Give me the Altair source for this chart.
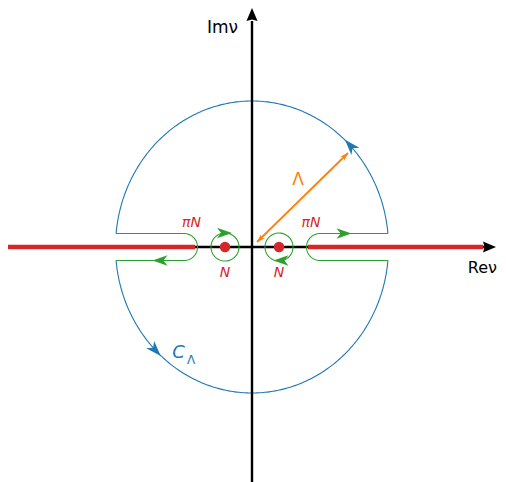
import altair as alt
import numpy as np
import pandas as pd

# ---------------- named data (pixel-like units, origin at axis crossing) ----------------
X_DOMAIN = [-244, 246]
Y_DOMAIN = [-235, 239]

axis_x_line = [-244, 234]      # real axis (before arrowhead)
axis_y_line = [-235, 226]      # imaginary axis (before arrowhead)
cut_left = [-244, -57]         # branch cut on the left (red)
cut_right = [56, 231]          # branch cut on the right (red)
pole_x = [-27, 27]             # poles at +-N
pole_labels = ["N", "N"]
cut_labels = ["πN", "πN"]
cut_label_x = [-60.5, 59]

R_x, R_y = 136.5, 146          # big contour C_Lambda
gap = 13.5                     # half-width of keyhole
keyhole_cx = 68                # centre of keyhole turn
small_r = 14                   # small circles around poles

orange_tip1 = (5, 5)
orange_tip2 = (96, 94)

RED, GREEN, BLUE, ORANGE = "#d62728", "#2ca02c", "#1f77b4", "#ff7f0e"

# ---------------- helpers ----------------
def path_df(xs, ys, grp):
    return pd.DataFrame({"x": xs, "y": ys, "i": np.arange(len(xs)), "g": grp})

t0 = np.arcsin(gap / R_y)
xg = R_x * np.cos(t0)

# blue big contour
tu = np.linspace(t0, np.pi - t0, 200)
tl = np.linspace(np.pi + t0, 2 * np.pi - t0, 200)
blue = pd.concat([
    path_df(R_x * np.cos(tu), R_y * np.sin(tu), "u"),
    path_df(R_x * np.cos(tl), R_y * np.sin(tl), "l"),
])

# green keyholes
ta = np.linspace(np.pi / 2, -np.pi / 2, 60)
lx = np.concatenate([[-xg], -keyhole_cx + gap * np.cos(ta), [-xg]])
ly = np.concatenate([[gap], gap * np.sin(ta), [-gap]])
tb = np.linspace(np.pi / 2, 3 * np.pi / 2, 60)
rx = np.concatenate([[xg], keyhole_cx + gap * np.cos(tb), [xg]])
ry = np.concatenate([[gap], gap * np.sin(tb), [-gap]])
tc = np.linspace(0, 2 * np.pi, 80)
green = pd.concat([
    path_df(lx, ly, "kl"),
    path_df(rx, ry, "kr"),
    path_df(pole_x[0] + small_r * np.cos(tc), small_r * np.sin(tc), "c1"),
    path_df(pole_x[1] + small_r * np.cos(tc), small_r * np.sin(tc), "c2"),
])

axes = pd.concat([
    path_df(axis_x_line, [0, 0], "ax"),
    path_df([0, 0], axis_y_line, "ay"),
])
cuts = pd.concat([
    path_df(cut_left, [0, 0], "cl"),
    path_df(cut_right, [0, 0], "cr"),
])
orange = path_df([orange_tip1[0], orange_tip2[0]], [orange_tip1[1], orange_tip2[1]], "o")

# arrowheads
def screen_angle(dx, dy):
    return float(np.degrees(np.arctan2(-dy, dx)) % 360)

heads = []
for tdeg in (44, 225):
    t = np.radians(tdeg)
    dx, dy = -R_x * np.sin(t), R_y * np.cos(t)
    heads.append(dict(x=R_x * np.cos(t), y=R_y * np.sin(t), a=screen_angle(dx, dy), c="b"))
heads += [
    dict(x=92, y=gap, a=0.0, c="g"),
    dict(x=-92, y=-gap, a=180.0, c="g"),
    dict(x=-27.5, y=small_r, a=0.0, c="g"),
    dict(x=29, y=-small_r + 0.5, a=180.0, c="g"),
]
heads = pd.DataFrame(heads)

ddx = orange_tip2[0] - orange_tip1[0]
ddy = orange_tip2[1] - orange_tip1[1]
L = np.hypot(ddx, ddy)
ux, uy = ddx / L, ddy / L
oh = 4.0
ohead = pd.DataFrame([
    dict(x=orange_tip2[0] - oh * ux, y=orange_tip2[1] - oh * uy, a=screen_angle(ux, uy)),
    dict(x=orange_tip1[0] + oh * ux, y=orange_tip1[1] + oh * uy, a=screen_angle(-ux, -uy)),
])
axhead = pd.DataFrame([
    dict(x=237.5, y=0, a=0.0),
    dict(x=0, y=232.5, a=270.0),
])

FANCY = "M1,0L-1,-0.7L-0.45,0L-1,0.7Z"
AXHEAD = "M1,0L-1,-0.85L-0.75,0L-1,0.85Z"

X = alt.X("x:Q", scale=alt.Scale(domain=X_DOMAIN, nice=False, zero=False), axis=None)
Y = alt.Y("y:Q", scale=alt.Scale(domain=Y_DOMAIN, nice=False, zero=False), axis=None)

def lines(df, color, width):
    return alt.Chart(df).mark_line(color=color, strokeWidth=width, clip=False).encode(
        x=X, y=Y, order=alt.Order("i:Q"), detail="g:N")

FONT = "DejaVu Sans"

def texts(df, color, size, style="normal", align="center"):
    return alt.Chart(df).mark_text(color=color, fontSize=size, fontStyle=style, font=FONT,
                                   align=align, baseline="middle").encode(x=X, y=Y, text="t:N")

layers = [
    lines(blue, BLUE, 1.1),
    lines(axes, "black", 2.4),
    lines(green, GREEN, 1.1),
    lines(cuts, RED, 4.5),
    lines(orange, ORANGE, 1.8),
    alt.Chart(pd.DataFrame({"x": pole_x, "y": [0, 0]})).mark_point(
        filled=True, color=RED, size=110, opacity=1, shape="circle").encode(x=X, y=Y),
    alt.Chart(heads[heads.c == "b"]).mark_point(
        filled=True, color=BLUE, size=240, opacity=1, shape=FANCY, strokeWidth=0).encode(
        x=X, y=Y, angle=alt.Angle("a:Q", scale=None)),
    alt.Chart(heads[heads.c == "g"]).mark_point(
        filled=True, color=GREEN, size=225, opacity=1, shape=FANCY, strokeWidth=0).encode(
        x=X, y=Y, angle=alt.Angle("a:Q", scale=None)),
    alt.Chart(ohead).mark_point(
        filled=True, color=ORANGE, size=70, opacity=1, shape=FANCY, strokeWidth=0).encode(
        x=X, y=Y, angle=alt.Angle("a:Q", scale=None)),
    alt.Chart(axhead).mark_point(
        filled=True, color="black", size=170, opacity=1, shape=AXHEAD, strokeWidth=0).encode(
        x=X, y=Y, angle=alt.Angle("a:Q", scale=None)),
    texts(pd.DataFrame({"x": [-14], "y": [219], "t": ["Imν"]}), "black", 17, align="right"),
    texts(pd.DataFrame({"x": [245], "y": [-21], "t": ["Reν"]}), "black", 16, align="right"),
    texts(pd.DataFrame({"x": cut_label_x, "y": [24, 24], "t": cut_labels}), RED, 14, "italic"),
    texts(pd.DataFrame({"x": pole_x, "y": [-26, -26], "t": pole_labels}), RED, 14, "italic"),
    texts(pd.DataFrame({"x": [46], "y": [67], "t": ["Λ"]}), ORANGE, 17),
    texts(pd.DataFrame({"x": [-73.5], "y": [-106], "t": ["C"]}), BLUE, 18, "italic"),
    texts(pd.DataFrame({"x": [-61], "y": [-113], "t": ["Λ"]}), BLUE, 12),
]

chart = alt.layer(*layers).properties(
    width=490, height=474, autosize="none", padding=0
).configure_view(stroke=None)

chart.save("out.html", embed_options={"renderer": "svg", "actions": False})
